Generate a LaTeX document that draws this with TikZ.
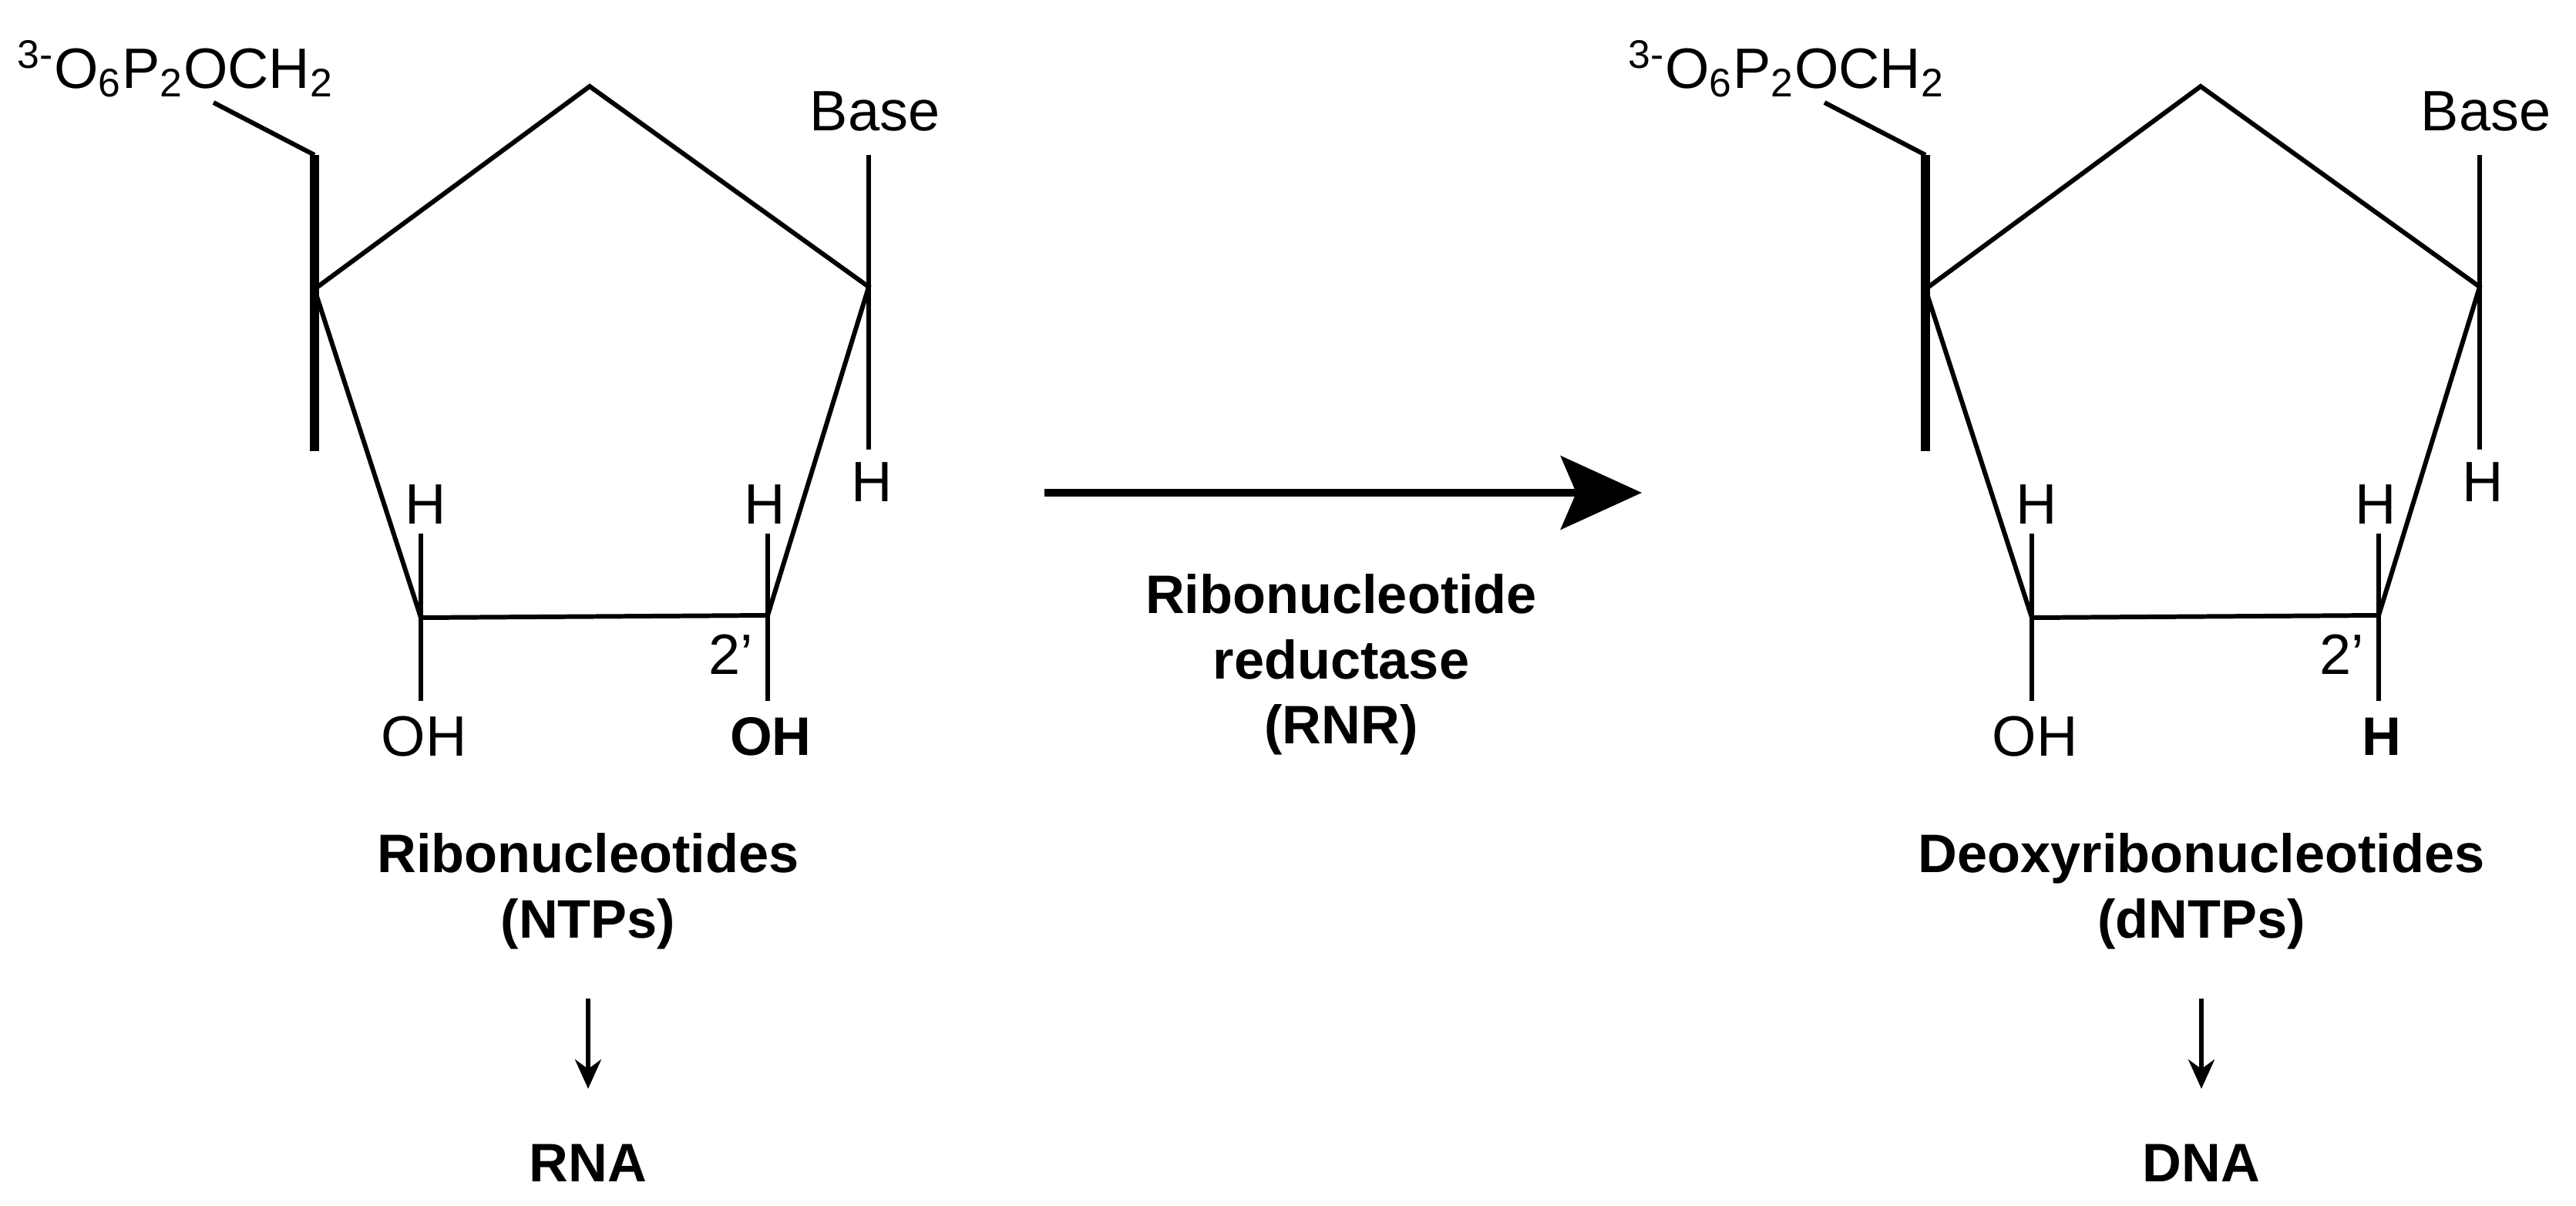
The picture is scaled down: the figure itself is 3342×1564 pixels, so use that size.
\documentclass[tikz,border=0pt]{standalone}
\usepackage{fontspec}
\setmainfont{Liberation Sans}
\usetikzlibrary{arrows.meta}
\begin{document}
\begin{tikzpicture}[x=0.01cm,y=-0.01cm,
  bond/.style={line width=1.7pt},
  lab/.style={font=\fontsize{21}{24}\selectfont,inner sep=0pt},
  blab/.style={font=\fontsize{20}{24}\selectfont\bfseries,inner sep=0pt,align=center},
  sugar/.pic={
    \coordinate (-ap) at (765,112);
    \coordinate (-c4) at (408,375);
    \coordinate (-c1) at (1127,372);
    \coordinate (-c3) at (546,801);
    \coordinate (-c2) at (996,798);
    \coordinate (-bt) at (408,201);
    \coordinate (-bb) at (408,585);
    \coordinate (-ch) at (277,133);
    \coordinate (-b1) at (1127,201);
    \coordinate (-h1) at (1127,583);
    \coordinate (-h3) at (546,692);
    \coordinate (-h2) at (996,692);
    \coordinate (-o3) at (546,909);
    \coordinate (-o2) at (996,909);
    \draw[bond,line join=miter] (-c4) -- (-ap) -- (-c1) -- (-c2) -- (-c3) -- cycle;
    \draw[line width=3.2pt] (-bt) -- (-bb);
    \draw[bond] (-ch) -- (-bt);
    \draw[bond] (-b1) -- (-h1);
    \draw[bond] (-h3) -- (-c3) -- (-o3);
    \draw[bond] (-h2) -- (-c2) -- (-o2);
    \node[lab,anchor=base west] (-ph) at (22,115) {\textsuperscript{3-}O\textsubscript{6}P\textsubscript{2}OCH\textsubscript{2}};
    \node[lab] (-base) at (1135,144) {Base};
    \node[lab] (-hh1) at (1131,625) {H};
    \node[lab] (-hh3) at (552,654) {H};
    \node[lab] (-hh2) at (992,654) {H};
    \node[lab] (-oh3) at (550,955) {OH};
    \node[lab] (-pr) at (948,849) {2’};
  }]
\useasboundingbox (0,0) rectangle (3342,1564);
\pic (L) at (0,0) {sugar};
\node[blab] (oL) at (1000,955) {OH};
\pic (R) at (2090,0) {sugar};
\node[blab] (oR) at (3090,955) {H};
\coordinate (a1) at (1355,639);
\coordinate (a2) at (2130,639);
\draw[line width=2.8pt,-{Stealth[length=1.05cm,width=0.95cm,inset=0.2cm]}] (a1) -- (a2);
\node[blab] (rnr) at (1740,862) {Ribonucleotide\\reductase\\(RNR)};
\node[blab] (nt) at (763,1156) {Ribonucleotides\\(NTPs)};
\node[blab] (rna) at (763,1508) {RNA};
\node[blab] (dnt) at (2856,1156) {Deoxyribonucleotides\\(dNTPs)};
\node[blab] (dna) at (2856,1508) {DNA};
\coordinate (s1) at (763,1295); \coordinate (s2) at (763,1412);
\coordinate (t1) at (2856,1295); \coordinate (t2) at (2856,1412);
\draw[bond,-{Stealth[length=0.38cm,width=0.34cm]}] (s1) -- (s2);
\draw[bond,-{Stealth[length=0.38cm,width=0.34cm]}] (t1) -- (t2);
\end{tikzpicture}
\end{document}
